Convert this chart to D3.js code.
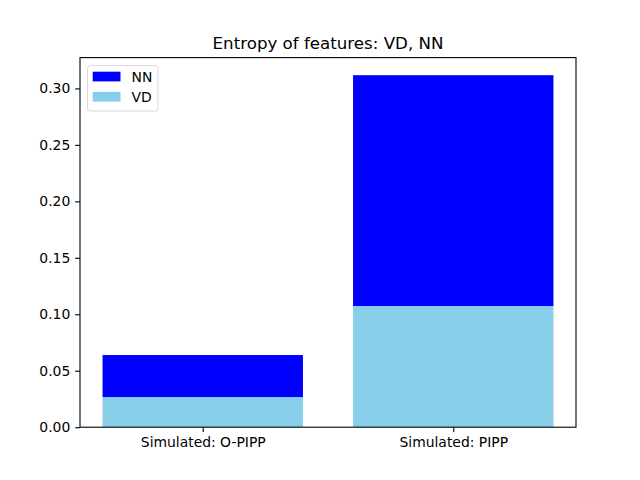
<!DOCTYPE html>
<html><head><meta charset="utf-8">
<script src="https://cdn.jsdelivr.net/npm/d3@7"></script>
<style>body{margin:0;background:#fff;} text{font-family:"DejaVu Sans",sans-serif;}</style>
</head><body><svg id="c" width="640" height="480"></svg>
<script>
const categories = ["Simulated: O-PIPP", "Simulated: PIPP"];
const vdValues = [0.0267, 0.1073];
const nnValues = [0.0372, 0.2044];
const yTicks = [0, 0.05, 0.10, 0.15, 0.20, 0.25, 0.30];
const seriesNames = ["NN", "VD"];
const colors = {VD: "#87ceeb", NN: "#0000ff"};

const svg = d3.select("#c");
const L = 80, R = 576, T = 57.6, B = 427.2;
const x = d3.scaleLinear().domain([-0.49, 1.49]).range([L, R]);
const maxTot = d3.max(categories.map((c, i) => vdValues[i] + nnValues[i]));
const y = d3.scaleLinear().domain([0, maxTot * 1.05]).range([B, T]);
const bw = 0.8;

const g = svg.append("g");
categories.forEach((c, i) => {
  g.append("rect").attr("x", x(i - bw/2)).attr("width", x(i + bw/2) - x(i - bw/2))
    .attr("y", y(vdValues[i])).attr("height", y(0) - y(vdValues[i])).attr("fill", colors.VD);
  g.append("rect").attr("x", x(i - bw/2)).attr("width", x(i + bw/2) - x(i - bw/2))
    .attr("y", y(vdValues[i] + nnValues[i])).attr("height", y(vdValues[i]) - y(vdValues[i] + nnValues[i])).attr("fill", colors.NN);
});

const yAxis = d3.axisLeft(y).tickValues(yTicks).tickFormat(d3.format(".2f")).tickSize(4.86).tickPadding(4.9);
const ya = svg.append("g").attr("transform", `translate(${L},0)`).call(yAxis);
const xAxis = d3.axisBottom(x).tickValues(categories.map((c, i) => i)).tickFormat(i => categories[i]).tickSize(4.86).tickPadding(4.9);
const xa = svg.append("g").attr("transform", `translate(0,${B})`).call(xAxis);
[ya, xa].forEach(a => {
  a.select(".domain").remove();
  a.selectAll("text").attr("font-size", "13.9px").attr("fill", "#000").attr("font-family", "DejaVu Sans");
  a.selectAll("line").attr("stroke", "#000").attr("stroke-width", 1.1);
});
svg.append("rect").attr("x", L).attr("y", T).attr("width", R - L).attr("height", B - T)
  .attr("fill", "none").attr("stroke", "#000").attr("stroke-width", 1.1);

svg.append("text").attr("x", (L + R) / 2).attr("y", 49).attr("text-anchor", "middle")
  .attr("font-size", "16.67px").text("Entropy of features: VD, NN");

const lg = svg.append("g");
lg.append("rect").attr("x", 87.5).attr("y", 65.5).attr("width", 70.5).attr("height", 45.5).attr("rx", 3)
  .attr("fill", "#fff").attr("fill-opacity", 0.8).attr("stroke", "#d9d9d9").attr("stroke-width", 1);
seriesNames.forEach((s, k) => {
  const yy = 71.7 + k * 20.2;
  lg.append("rect").attr("x", 92.7).attr("y", yy).attr("width", 27.8).attr("height", 9.7).attr("fill", colors[s]);
  lg.append("text").attr("x", 131.5).attr("y", yy + 10).attr("font-size", "13.9px").text(s);
});
</script></body></html>
